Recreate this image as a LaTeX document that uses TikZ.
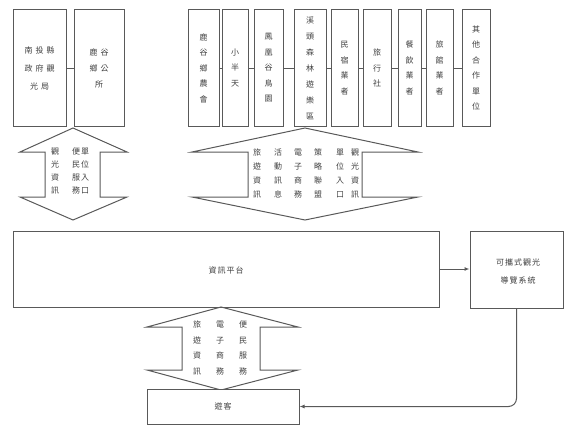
\documentclass[tikz,border=0pt]{standalone}
\usepackage{fontspec}
\newfontfamily\cjk{Noto Sans CJK TC}
\usetikzlibrary{arrows.meta}
\tikzset{
  ln/.style={draw=black!65, line width=1pt},
  box/.style={ln, rectangle, inner sep=0pt, fill=white},
  vtxt/.style={font=\cjk\fontsize{8}{15.5}\selectfont, text=black!75, align=center, inner sep=0pt},
  atxt/.style={font=\cjk\fontsize{8}{14}\selectfont, text=black!75, align=center, inner sep=0pt},
  htxt/.style={font=\cjk\fontsize{8}{18}\selectfont, text=black!75, align=center},
  dbl/.style={ln, line join=miter},
  con/.style={ln},
  arr/.style={ln, -{Latex[length=5pt,width=4pt]}}
}
\newcommand\ks{\kern3pt}
\begin{document}
\begin{tikzpicture}[x=1pt,y=-1pt]
\useasboundingbox (0,0) rectangle (567,428);
% top boxes
\node[box, minimum width=53pt, minimum height=116pt] (b1) at (39.5,68) {};
\node[htxt] at (b1) {南\ks 投\ks 縣\\政\ks 府\ks 觀\\光\ks 局};
\node[box, minimum width=50pt, minimum height=116pt] (b2) at (99,68) {};
\node[htxt, font=\cjk\fontsize{8}{16}\selectfont] at (b2) {鹿\ks 谷\\鄉\ks 公\\所};
\node[box, minimum width=31pt, minimum height=116pt] (b3) at (203.5,68) {};
\node[vtxt] at (b3) {鹿\\谷\\鄉\\農\\會};
\node[box, minimum width=26pt, minimum height=116pt] (b4) at (235,68) {};
\node[vtxt] at (b4) {小\\半\\天};
\node[box, minimum width=29pt, minimum height=116pt] (b5) at (268.5,68) {};
\node[vtxt] at (b5) {鳳\\凰\\谷\\鳥\\園};
\node[box, minimum width=32pt, minimum height=116pt] (b6) at (310,68) {};
\node[vtxt, font=\cjk\fontsize{8}{16}\selectfont] at (b6) {溪\\頭\\森\\林\\遊\\樂\\區};
\node[box, minimum width=27pt, minimum height=116pt] (b7) at (344.5,68) {};
\node[vtxt] at (b7) {民\\宿\\業\\者};
\node[box, minimum width=28pt, minimum height=116pt] (b8) at (377,68) {};
\node[vtxt] at (b8) {旅\\行\\社};
\node[box, minimum width=23pt, minimum height=116pt] (b9) at (409.5,68) {};
\node[vtxt] at (b9) {餐\\飲\\業\\者};
\node[box, minimum width=27pt, minimum height=116pt] (b10) at (439.5,68) {};
\node[vtxt] at (b10) {旅\\館\\業\\者};
\node[box, minimum width=28pt, minimum height=116pt] (b11) at (476,68) {};
\node[vtxt] at (b11) {其\\他\\合\\作\\單\\位};
\draw[con] (b1) -- (b2);
\draw[con] (b3) -- (b4);
\draw[con] (b4) -- (b5);
\draw[con] (b5) -- (b6);
\draw[con] (b6) -- (b7);
\draw[con] (b7) -- (b8);
\draw[con] (b8) -- (b9);
\draw[con] (b9) -- (b10);
\draw[con] (b10) -- (b11);
% left double arrow
\draw[dbl] (73,128) -- (20,152) -- (45,152) -- (45,197) -- (20,197) -- (73,220)
  -- (127,197) -- (100,197) -- (100,152) -- (127,152) -- cycle;
\node[atxt, font=\cjk\fontsize{8}{13}\selectfont] (l1) at (55,171) {觀\\光\\資\\訊};
\node[atxt, font=\cjk\fontsize{8}{13}\selectfont] (l2) at (76,171) {便\\民\\服\\務};
\node[atxt, font=\cjk\fontsize{8}{13}\selectfont] (l3) at (85,171) {單\\位\\入\\口};
% middle double arrow
\draw[dbl] (305,128) -- (192,152) -- (248,152) -- (248,197) -- (192,197) -- (305,220)
  -- (418,197) -- (362,197) -- (362,152) -- (418,152) -- cycle;
\node[atxt] (m1) at (257,173.5) {旅\\遊\\資\\訊};
\node[atxt] (m2) at (278,173.5) {活\\動\\訊\\息};
\node[atxt] (m3) at (298,173.5) {電\\子\\商\\務};
\node[atxt] (m4) at (318,173.5) {策\\略\\聯\\盟};
\node[atxt] (m5) at (340,173.5) {單\\位\\入\\口};
\node[atxt] (m6) at (355,173.5) {觀\\光\\資\\訊};
% platform
\node[box, minimum width=426pt, minimum height=76pt] (plat) at (226,269) {};
\node[htxt] at (226,270) {資\kern1pt 訊\kern1pt 平\kern1pt 台};
\node[box, minimum width=93pt, minimum height=77pt] (port) at (516.5,269.5) {};
\node[htxt] at (518,271) {可\kern1pt 攜\kern1pt 式\kern1pt 觀\kern1pt 光\\導\kern1pt 覽\kern1pt 系\kern1pt 統};
\draw[arr] (plat.east) -- (plat.east -| port.west);
% bottom double arrow
\draw[dbl] (221,307) -- (147,327) -- (182,327) -- (182,370) -- (147,370) -- (221,390)
  -- (298,370) -- (260,370) -- (260,327) -- (298,327) -- cycle;
\node[atxt, font=\cjk\fontsize{8}{15.5}\selectfont] (d1) at (197,348) {旅\\遊\\資\\訊};
\node[atxt, font=\cjk\fontsize{8}{15.5}\selectfont] (d2) at (220,348) {電\\子\\商\\務};
\node[atxt, font=\cjk\fontsize{8}{15.5}\selectfont] (d3) at (243,348) {便\\民\\服\\務};
% visitor
\node[box, minimum width=152pt, minimum height=35pt] (vis) at (223,406.5) {};
\node[htxt] at (vis) {遊\kern1pt 客};
\draw[arr, rounded corners=8pt] (port.south) |- (vis.east);
\end{tikzpicture}
\end{document}
